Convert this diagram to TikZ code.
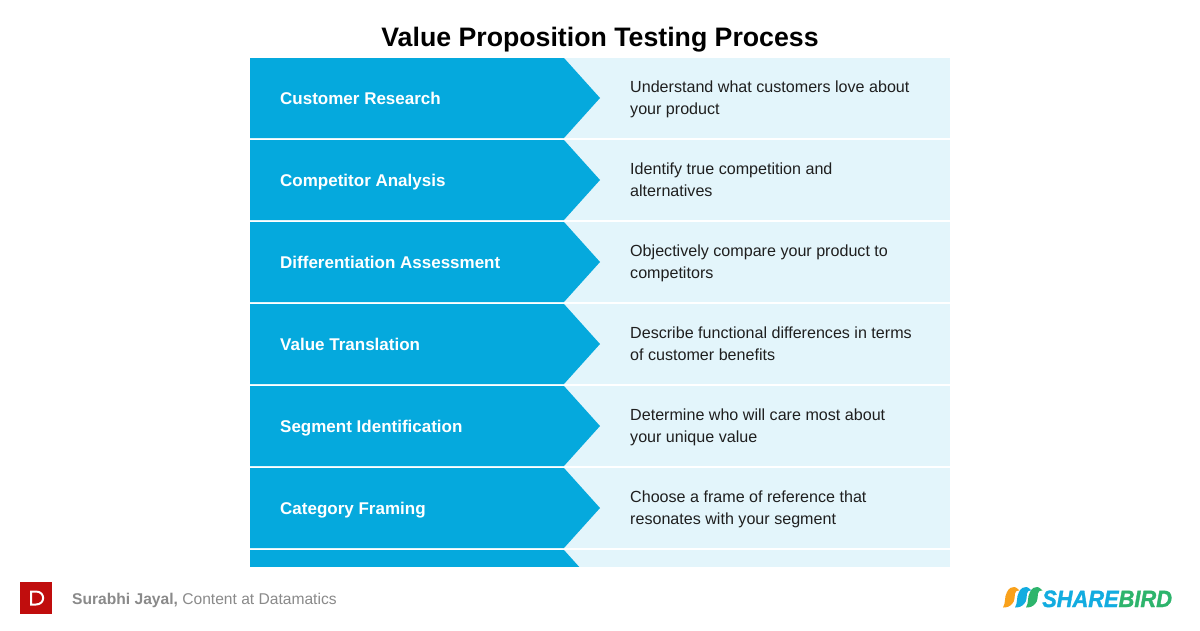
\documentclass[tikz,border=0pt]{standalone}
\usepackage{fontspec}
\setmainfont{Liberation Sans}
\newfontfamily\brandfont[FakeBold=1.5]{Liberation Sans Bold Italic}
\definecolor{rowblue}{HTML}{05A9DD}
\definecolor{rowlight}{HTML}{E3F5FB}
\definecolor{logored}{HTML}{C00D0D}
\definecolor{footgray}{HTML}{8A8A8A}
\definecolor{sborange}{HTML}{F9A11B}
\definecolor{sbblue}{HTML}{12ACE0}
\definecolor{sbgreen}{HTML}{2DB46C}
\tikzset{
  x=1pt,y=-1pt,
  panel/.style={fill=rowlight,draw=none},
  chevron/.style={fill=rowblue,draw=none},
  steplabel/.style={anchor=west,inner sep=0pt,text height=12pt,text depth=4pt,text=white,font=\fontsize{17}{22}\selectfont\bfseries},
  desclabel/.style={anchor=west,inner sep=0pt,align=left,text=black!88,font=\fontsize{16.1}{22}\selectfont},
}
\newcommand{\topstrut}{\rule{0pt}{12pt}}
\newcommand{\botstrut}{\rule[-4pt]{0pt}{4pt}}
\newcommand{\rowshape}[5]{%
  \fill[panel] (250,#1) rectangle (950,#1+80);
  \fill[chevron] (250,#1) -- (564,#1) -- (600,#1+40) -- (564,#1+80) -- (250,#1+80) -- cycle;
  \node[steplabel] (s#2) at (280,#1+42) {#3};
  \node[desclabel] (d#2) at (630,#1+41) {\topstrut #4\\#5\botstrut};
}
\newcommand{\birdshape}[2]{%
  \fill[#2] (#1+0,607.5) .. controls (#1+3,603) and (#1+1,597) .. (#1+4,592)
    .. controls (#1+6,588) and (#1+9,586.5) .. (#1+11.5,587)
    .. controls (#1+13,587.3) and (#1+14.5,588.5) .. (#1+16.5,590.5)
    .. controls (#1+14,590) and (#1+12.5,591) .. (#1+12,593.5)
    .. controls (#1+11.5,597) and (#1+12,601) .. (#1+9,604)
    .. controls (#1+7,606.5) and (#1+3,607.8) .. (#1+0,607.5) -- cycle;
}
\begin{document}
\begin{tikzpicture}
\useasboundingbox (0,0) rectangle (1200,630);
\fill[white] (0,0) rectangle (1200,630);
\node[font=\fontsize{26.7}{32}\selectfont\bfseries,inner sep=0pt,text height=20pt,text depth=6pt] (title) at (600,39) {Value Proposition Testing Process};
\rowshape{58}{a}{Customer Research}{Understand what customers love about}{your product}
\rowshape{140}{b}{Competitor Analysis}{Identify true competition and}{alternatives}
\rowshape{222}{c}{Differentiation Assessment}{Objectively compare your product to}{competitors}
\rowshape{304}{d}{Value Translation}{Describe functional differences in terms}{of customer benefits}
\rowshape{386}{e}{Segment Identification}{Determine who will care most about}{your unique value}
\rowshape{468}{f}{Category Framing}{Choose a frame of reference that}{resonates with your segment}
\begin{scope}
  \clip (250,550) rectangle (950,566);
  \fill[panel] (250,550) rectangle (950,630);
  \fill[chevron] (250,550) -- (564,550) -- (600,590) -- (564,630) -- (250,630) -- cycle;
\end{scope}
% footer, left
\fill[logored] (20,582) rectangle (52,614);
\draw[white,line width=2] (31,591.5) -- (31,604.5) -- (36,604.5) .. controls (45.5,604.5) and (45.5,591.5) .. (36,591.5) -- cycle;
\node[anchor=west,inner sep=0pt,text height=12pt,text depth=4pt,text=footgray,font=\fontsize{15.6}{18}\selectfont] (author) at (72,600) {\textbf{Surabhi Jayal,} Content at Datamatics};
% footer, right
\birdshape{1003}{sborange}
\birdshape{1015}{sbblue}
\birdshape{1026}{sbgreen}
\node[anchor=west,inner sep=0pt,text height=17pt,text depth=0pt] (brand) at (1042,598.5) {\scalebox{0.925}[1]{\fontsize{23.6}{26}\brandfont\textcolor{sbblue}{SHARE}\textcolor{sbgreen}{BIRD}}};
\end{tikzpicture}
\end{document}
